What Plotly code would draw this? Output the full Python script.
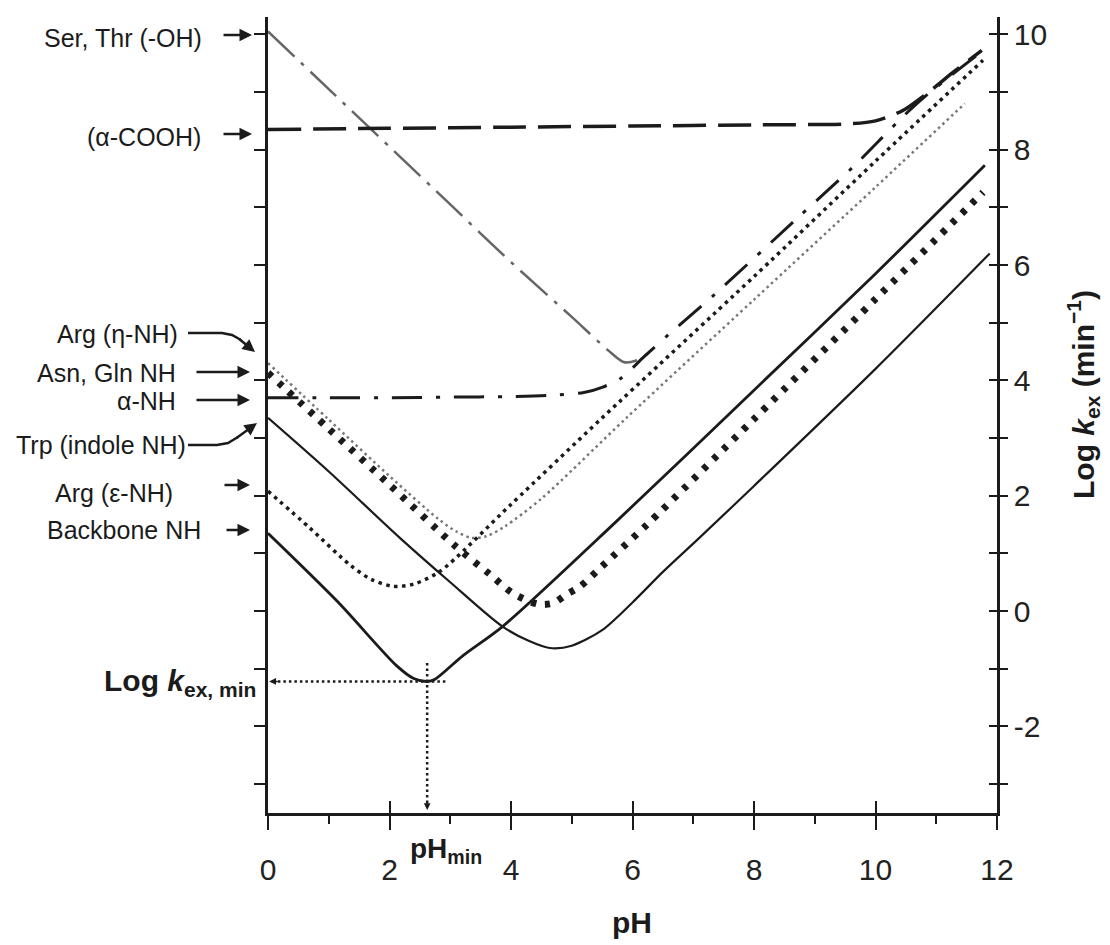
import plotly.graph_objects as go

# ---------------- data ----------------
PH_MIN = 2.62
LOGK_MIN = -1.22

ser_thr_ph = [0, 1, 2, 3, 4, 5, 5.6, 5.85, 6.05, 6.3]
ser_thr_y = [10.05, 9.05, 8.05, 7.05, 6.05, 5.1, 4.52, 4.32, 4.34, 4.5]

a_cooh_ph = [0, 2, 4, 6, 8, 9.6, 10.0, 10.45, 10.9, 11.3, 11.75]
a_cooh_y = [8.35, 8.37, 8.39, 8.41, 8.43, 8.45, 8.5, 8.68, 9.02, 9.36, 9.72]

a_nh_ph = [0, 1, 2, 3, 4, 4.64, 5.2, 5.5, 5.8, 6.2, 6.6, 7.33, 8.7, 9.63, 10.68, 11.75]
a_nh_y = [3.7, 3.7, 3.7, 3.71, 3.72, 3.74, 3.79, 3.88, 4.03, 4.42, 4.8, 5.47, 6.8, 7.7, 8.8, 9.7]

arg_eta_ph = [0, 1, 2, 2.8, 3.1, 3.35, 3.6, 3.9, 4.5, 5.9, 8, 10, 11.47]
arg_eta_y = [4.3, 3.32, 2.34, 1.6, 1.38, 1.27, 1.3, 1.47, 1.95, 3.35, 5.4, 7.35, 8.8]

arg_eps_ph = [0, 0.69, 1.35, 1.7, 2.06, 2.4, 2.83, 4, 5.5, 8, 10, 11.77]
arg_eps_y = [2.08, 1.44, 0.8, 0.55, 0.43, 0.47, 0.69, 1.85, 3.35, 5.8, 7.8, 9.55]

asn_gln_ph = [0, 1, 2, 3.08, 3.65, 4.03, 4.45, 4.7, 4.9, 5.14, 5.5, 6.24, 8, 10, 11.77]
asn_gln_y = [4.13, 3.16, 2.19, 1.13, 0.64, 0.31, 0.12, 0.14, 0.28, 0.43, 0.78, 1.5, 3.33, 5.41, 7.26]

trp_ph = [0, 1, 2.17, 3.0, 3.85, 4.3, 4.64, 5.0, 5.5, 6.0, 6.5, 7.1, 8, 10, 11.88]
trp_y = [3.35, 2.42, 1.27, 0.5, -0.26, -0.52, -0.64, -0.6, -0.33, 0.15, 0.68, 1.27, 2.17, 4.2, 6.2]

backbone_ph = [0, 1.14, 2.12, 2.4, 2.62, 2.75, 3.2, 3.87, 5.74, 8, 10, 11.8]
backbone_y = [1.35, 0.17, -0.95, -1.17, -1.22, -1.18, -0.78, -0.26, 1.56, 3.83, 5.85, 7.73]

x_tick_vals = [0, 2, 4, 6, 8, 10, 12]
y_tick_vals = list(range(-3, 11))
y_tick_text = [str(v) if v % 2 == 0 else "" for v in y_tick_vals]

left_labels = ["Ser, Thr (-OH)", "(α-COOH)", "Arg (η-NH)", "Asn, Gln NH",
               "α-NH", "Trp (indole NH)", "Arg (ε-NH)", "Backbone NH"]

# ---------------- figure ----------------
INK = "#1b1b1b"
fig = go.Figure()


def curve(x, y, color, width, dash):
    fig.add_trace(go.Scatter(
        x=x, y=y, mode="lines",
        line=dict(color=color, width=width, dash=dash, shape="spline", smoothing=0.8),
        hoverinfo="skip"))


curve(ser_thr_ph, ser_thr_y, "#666666", 2.5, "36px,9px,4px,9px")
curve(a_cooh_ph, a_cooh_y, INK, 3.5, "33px,12px")
curve(a_nh_ph, a_nh_y, INK, 3, "30px,14px,4px,14px")
curve(arg_eta_ph, arg_eta_y, "#777777", 2.5, "2.5px,3.5px")
curve(arg_eps_ph, arg_eps_y, INK, 3.5, "3.5px,4.5px")
curve(asn_gln_ph, asn_gln_y, INK, 7, "5px,9px")
curve(trp_ph, trp_y, INK, 2.2, "solid")
curve(backbone_ph, backbone_y, INK, 2.8, "solid")

# dotted guide lines to the minimum
fig.add_trace(go.Scatter(x=[PH_MIN + 0.3, 0.08], y=[LOGK_MIN, LOGK_MIN], mode="lines",
                         line=dict(color=INK, width=2.5, dash="2.5px,3px"), hoverinfo="skip"))
fig.add_trace(go.Scatter(x=[PH_MIN, PH_MIN], y=[-0.9, -3.4], mode="lines",
                         line=dict(color=INK, width=2.5, dash="2.5px,3px"), hoverinfo="skip"))

AX = dict(showgrid=False, zeroline=False)
fig.update_layout(
    width=1110, height=945, autosize=False,
    margin=dict(l=268, r=113, t=17, b=132),
    plot_bgcolor="white", paper_bgcolor="white",
    showlegend=False,
    font=dict(family="Liberation Sans, Arial, sans-serif", color=INK),
    xaxis=dict(range=[0, 12], showline=True, linecolor=INK, linewidth=2.5,
               ticks="outside", ticklen=14, tickwidth=2, tickcolor=INK,
               tickvals=x_tick_vals, tickfont=dict(size=30, color="#222"),
               ticklabelstandoff=14,
               minor=dict(ticks="outside", ticklen=8, tickwidth=2, dtick=1, tick0=0, tickcolor=INK),
               **AX),
    xaxis2=dict(range=[0, 12], overlaying="x", anchor="y", side="bottom",
                ticks="inside", ticklen=12, tickwidth=2, tickcolor=INK,
                tickvals=x_tick_vals, showticklabels=False, showline=False, **AX),
    yaxis=dict(range=[-3.5, 10.3], showline=True, linecolor=INK, linewidth=2.5,
               ticks="outside", ticklen=11, tickwidth=2, tickcolor=INK,
               tickvals=y_tick_vals, showticklabels=False, **AX),
    yaxis2=dict(range=[-3.5, 10.3], overlaying="y", anchor="x", side="right",
                showline=True, linecolor=INK, linewidth=2.5,
                ticks="outside", ticklen=8, tickwidth=2, tickcolor=INK,
                tickvals=y_tick_vals, ticktext=y_tick_text,
                tickfont=dict(size=30, color="#222"), **AX),
    yaxis3=dict(range=[-3.5, 10.3], overlaying="y", anchor="x", side="right",
                ticks="inside", ticklen=8, tickwidth=2, tickcolor=INK,
                tickvals=y_tick_vals, showticklabels=False, showline=False, **AX),
)
# invisible traces so the overlay axes render
fig.add_trace(go.Scatter(x=[None], y=[None], xaxis="x2", yaxis="y", hoverinfo="skip"))
fig.add_trace(go.Scatter(x=[None], y=[None], xaxis="x", yaxis="y2", hoverinfo="skip"))
fig.add_trace(go.Scatter(x=[None], y=[None], xaxis="x", yaxis="y3", hoverinfo="skip"))

# pixel -> paper helpers for annotations
L, R, T, B = 268, 997, 17, 813


def PX(px):
    return (px - L) / (R - L)


def PY(py):
    return (B - py) / (B - T)


def text(px, py, s, size=25, xanchor="right", angle=0):
    fig.add_annotation(x=PX(px), y=PY(py), xref="paper", yref="paper", text=s,
                       showarrow=False, xanchor=xanchor, yanchor="middle",
                       textangle=angle, font=dict(size=size, color=INK))


def arrow(tx, ty, hx, hy, head=2, size=1.0, width=2.5):
    fig.add_annotation(x=PX(hx), y=PY(hy), xref="paper", yref="paper", text="",
                       showarrow=True, ax=tx - hx, ay=ty - hy, arrowhead=head,
                       arrowsize=size, arrowwidth=width, arrowcolor=INK)


def path(points):
    d = "M " + " L ".join(f"{PX(x)},{PY(y)}" for x, y in points)
    fig.add_shape(type="path", path=d, xref="paper", yref="paper",
                  line=dict(color=INK, width=2.5))


# left labels
text(204, 38, left_labels[0])
arrow(222, 35, 252, 35)
text(203, 137, left_labels[1])
arrow(222, 134, 252, 134)
text(180, 334, left_labels[2])
path([(188, 333), (222, 333), (232, 335), (241, 340)])
arrow(238, 338, 255, 352)
text(178, 373, left_labels[3])
arrow(195, 372, 250, 372)
text(178, 401, left_labels[4])
arrow(195, 400, 250, 400)
text(188, 445, left_labels[5])
path([(188, 445), (217, 445), (228, 443), (238, 437)])
arrow(235, 439, 257, 423)
text(175, 493, left_labels[6])
arrow(223, 485, 250, 485)
text(203, 530, left_labels[7])
arrow(225, 530, 250, 530)

# min markers
text(258, 682, "<b>Log <i>k</i><sub>ex, min</sub></b>", size=30)
fig.add_annotation(x=0.02, y=LOGK_MIN, xref="x", yref="y", text="", showarrow=True,
                   ax=10, ay=0, arrowhead=2, arrowsize=0.9, arrowwidth=1.5, arrowcolor=INK)
fig.add_annotation(x=PH_MIN, y=-3.45, xref="x", yref="y", text="", showarrow=True,
                   ax=0, ay=-10, arrowhead=2, arrowsize=0.9, arrowwidth=1.5, arrowcolor=INK)
text(408, 850, "<b>pH<sub>min</sub></b>", size=28, xanchor="left")

# axis titles
text(632, 922, "<b>pH</b>", size=30, xanchor="center")
text(1083, 395, "<b>Log <i>k</i><sub>ex</sub> (min<sup>−1</sup>)</b>", size=30,
     xanchor="center", angle=-90)

fig.write_html("out.html")
